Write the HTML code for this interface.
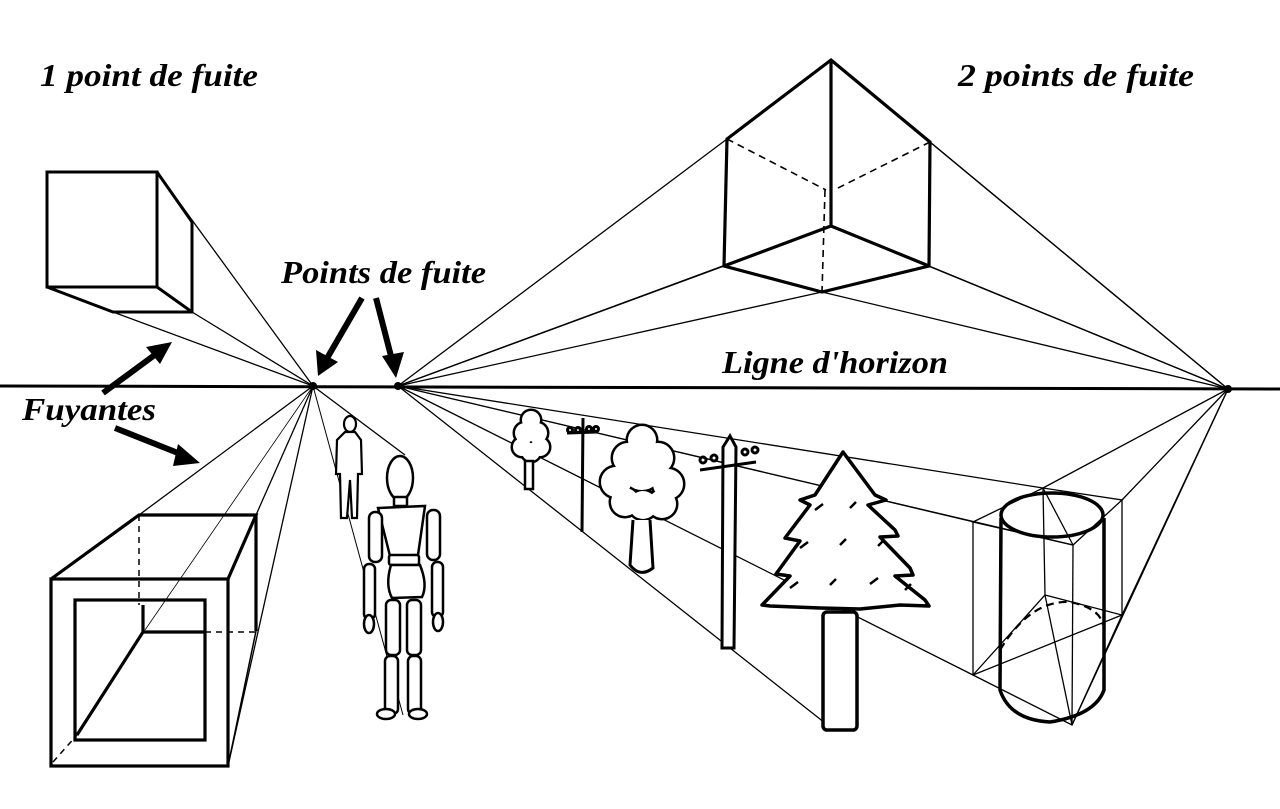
<!DOCTYPE html>
<html><head><meta charset="utf-8"><style>html,body{margin:0;padding:0;background:#fff}svg{display:block}</style></head>
<body>
<svg width="1280" height="809" viewBox="0 0 1280 809" xmlns="http://www.w3.org/2000/svg">
<rect width="1280" height="809" fill="#fff"/>
<defs>
<marker id="ah" viewBox="0 0 10 10" refX="8" refY="5" markerWidth="4" markerHeight="4" orient="auto"><path d="M0,0 L10,5 L0,10 z" fill="#000"/></marker>
</defs>
<g font-family="Liberation Serif, serif" font-weight="bold" font-style="italic" fill="#000">
<text x="40" y="86" font-size="32" textLength="218" lengthAdjust="spacingAndGlyphs">1 point de fuite</text>
<text x="958" y="86" font-size="32" textLength="236" lengthAdjust="spacingAndGlyphs">2 points de fuite</text>
<text x="281" y="283" font-size="32" textLength="205" lengthAdjust="spacingAndGlyphs">Points de fuite</text>
<text x="722" y="373" font-size="32" textLength="226" lengthAdjust="spacingAndGlyphs">Ligne d'horizon</text>
<text x="22" y="420" font-size="32" textLength="134" lengthAdjust="spacingAndGlyphs">Fuyantes</text>
</g>
<!-- horizon -->
<line x1="0" y1="386" x2="1280" y2="389" stroke="#000" stroke-width="3"/>
<circle cx="313" cy="386" r="4"/><circle cx="398" cy="386" r="4"/><circle cx="1228" cy="389" r="4"/>
<g stroke="#000" fill="none" stroke-width="1.3">
<!-- VP1 rays -->
<line x1="313" y1="386" x2="157" y2="172"/>
<line x1="313" y1="386" x2="192" y2="312"/>
<line x1="313" y1="386" x2="113" y2="312"/>
<line x1="313" y1="386" x2="139" y2="515"/>
<line x1="313" y1="386" x2="256" y2="515"/>
<line x1="313" y1="386" x2="228" y2="766"/>
<line x1="313" y1="386" x2="145" y2="630" stroke-width="0.8"/>
<line x1="313" y1="386" x2="405" y2="455"/>
<line x1="313" y1="386" x2="403" y2="715" stroke-width="1"/>
<!-- VP2 rays -->
<line x1="398" y1="386" x2="727" y2="139"/>
<line x1="398" y1="386" x2="724" y2="266"/>
<line x1="398" y1="386" x2="822" y2="292"/>
<line x1="398" y1="386" x2="831" y2="226"/>
<line x1="398" y1="386" x2="1043" y2="488"/>
<line x1="398" y1="386" x2="1073" y2="545"/>
<line x1="398" y1="386" x2="973" y2="675"/>
<line x1="398" y1="386" x2="825" y2="723"/>
<line x1="398" y1="386" x2="973" y2="522" stroke-width="0.8"/>
<!-- VP3 rays -->
<line x1="1228" y1="389" x2="831" y2="60"/>
<line x1="1228" y1="389" x2="930" y2="142"/>
<line x1="1228" y1="389" x2="929" y2="266"/>
<line x1="1228" y1="389" x2="822" y2="292"/>
<line x1="1228" y1="389" x2="831" y2="226"/>
<line x1="1228" y1="389" x2="1043" y2="488"/>
<line x1="1228" y1="389" x2="1122" y2="500"/>
<line x1="1228" y1="389" x2="1122" y2="615"/>
<line x1="1228" y1="389" x2="1072" y2="725"/>
<!-- cylinder box -->
<polygon points="973,522 1043,488 1122,500 1073,545"/>
<polygon points="973,675 1045,595 1122,615 1072,725"/>
<line x1="973" y1="522" x2="973" y2="675"/>
<line x1="1073" y1="545" x2="1072" y2="725"/>
<line x1="1122" y1="500" x2="1122" y2="615"/>
<line x1="1043" y1="488" x2="1045" y2="595"/>
<line x1="1043" y1="488" x2="1073" y2="545" />
<line x1="1045" y1="595" x2="1072" y2="725"/>
<line x1="973" y1="675" x2="1122" y2="615"/>
</g>
<!-- cylinder -->
<g stroke="#000" fill="none" stroke-width="3.5">
<ellipse cx="1052" cy="515" rx="51" ry="22"/>
<path d="M1001,518 L1000,690 Q1010,720 1050,722 Q1095,715 1104,690 L1104,518"/>
<path d="M1000,650 Q1030,600 1070,602 Q1100,608 1103,625" stroke-width="2.2" stroke-dasharray="8,5"/>
</g>
<!-- top-left cube -->
<g stroke="#000" fill="none" stroke-width="3">
<rect x="47" y="172" width="110" height="115"/>
<polyline points="157,172 192,222 192,312 113,312 47,287"/>
<line x1="157" y1="287" x2="192" y2="312"/>
</g>
<!-- bottom-left box -->
<g stroke="#000" fill="none" stroke-width="3.2">
<rect x="51" y="579" width="177" height="187"/>
<rect x="75" y="600" width="130" height="140"/>
<polyline points="51,579 139,515 256,515 228,579"/>
<line x1="256" y1="515" x2="256" y2="631"/>
<line x1="228" y1="766" x2="256" y2="631" stroke-width="1.5"/>
<polyline points="143,605 143,632 205,632"/>
<line x1="143" y1="632" x2="77" y2="735"/>
</g>
<g stroke="#000" fill="none" stroke-width="1.5" stroke-dasharray="6,5">
<line x1="139" y1="515" x2="139" y2="605"/>
<line x1="205" y1="632" x2="258" y2="632"/>
<line x1="53" y1="762" x2="77" y2="735"/>
</g>
<!-- top-right cube -->
<g stroke="#000" fill="none" stroke-width="3.2">
<polygon points="831,60 930,142 929,266 822,292 724,266 727,139"/>
<line x1="831" y1="60" x2="831" y2="226"/>
<polyline points="724,266 831,226 929,266"/>
</g>
<g stroke="#000" fill="none" stroke-width="1.6" stroke-dasharray="7,5">
<line x1="727" y1="139" x2="826" y2="190"/>
<line x1="930" y1="142" x2="834" y2="190"/>
<line x1="825" y1="190" x2="822" y2="292"/>
</g>
<!-- arrows -->
<g stroke="#000" stroke-width="6" fill="#000">
<line x1="103" y1="393" x2="156" y2="354"/><polygon points="172,342 146,347 160,364" stroke="none"/>
<line x1="115" y1="428" x2="183" y2="455"/><polygon points="200,463 178,444 173,466" stroke="none"/>
<line x1="362" y1="298" x2="326" y2="360"/><polygon points="318,376 316,350 338,362" stroke="none"/>
<line x1="376" y1="298" x2="392" y2="360"/><polygon points="396,378 382,356 404,352" stroke="none"/>
</g>
<!-- small tree -->
<g>
<g stroke="#000" stroke-width="5"><circle cx="531" cy="420" r="9"/><circle cx="525" cy="433" r="10"/><circle cx="537" cy="433" r="10"/><circle cx="522" cy="447" r="9"/><circle cx="540" cy="447" r="9"/><circle cx="531" cy="452" r="9"/></g>
<g fill="#fff"><circle cx="531" cy="420" r="9"/><circle cx="525" cy="433" r="10"/><circle cx="537" cy="433" r="10"/><circle cx="522" cy="447" r="9"/><circle cx="540" cy="447" r="9"/><circle cx="531" cy="452" r="9"/></g>
<rect x="525" y="461" width="8" height="28" fill="#fff" stroke="#000" stroke-width="2.5"/>
</g>
<!-- small pole -->
<g stroke="#000" stroke-width="3" fill="none">
<line x1="583" y1="418" x2="582" y2="532"/>
<line x1="567" y1="433" x2="597" y2="432"/>
<circle cx="570" cy="430" r="2.5"/><circle cx="578" cy="430" r="2.5"/><circle cx="589" cy="429" r="2.5"/><circle cx="596" cy="429" r="2.5"/>
</g>
<!-- round tree -->
<g>
<g stroke="#000" stroke-width="5"><circle cx="642" cy="440" r="14"/><circle cx="628" cy="458" r="15"/><circle cx="658" cy="458" r="15"/><circle cx="616" cy="482" r="15"/><circle cx="668" cy="484" r="15"/><circle cx="642" cy="470" r="20"/><circle cx="625" cy="502" r="14"/><circle cx="662" cy="504" r="14"/><circle cx="643" cy="505" r="14"/></g>
<g fill="#fff"><circle cx="642" cy="440" r="14"/><circle cx="628" cy="458" r="15"/><circle cx="658" cy="458" r="15"/><circle cx="616" cy="482" r="15"/><circle cx="668" cy="484" r="15"/><circle cx="642" cy="470" r="20"/><circle cx="625" cy="502" r="14"/><circle cx="662" cy="504" r="14"/><circle cx="643" cy="505" r="14"/></g>
<path d="M633,520 L630,565 Q640,578 653,568 L650,520" fill="#fff" stroke="#000" stroke-width="3"/>
</g>
<!-- big pole -->
<g stroke="#000" stroke-width="3" fill="none">
<path d="M723,447 L730,436 L736,447 L734,648 L722,648 Z" fill="#fff"/>
<line x1="700" y1="470" x2="756" y2="462"/>
<circle cx="703" cy="460" r="3"/><circle cx="714" cy="458" r="3"/><circle cx="745" cy="452" r="3"/><circle cx="755" cy="450" r="3"/>
</g>
<!-- pine -->
<g stroke="#000" stroke-width="3.5" fill="#fff" stroke-linejoin="round">
<rect x="823" y="612" width="34" height="118" rx="4"/>
<polygon points="843,452 875,495 886,500 868,505 895,530 898,536 880,537 910,568 913,575 895,576 925,600 929,606 900,605 860,609 820,608 770,606 762,605 790,576 776,574 800,541 785,538 810,505 800,500 815,495"/>
</g>
<g stroke="#000" stroke-width="2.5" fill="none">
<path d="M815,510 l8,-6 M850,508 l6,-6 M800,548 l8,-6 M840,545 l6,-6 M878,546 l6,-6 M790,588 l8,-6 M830,585 l6,-6 M870,584 l8,-6 M905,590 l6,-6"/>
</g>
<!-- small figure -->
<g stroke="#000" stroke-width="2.2" fill="#fff">
<ellipse cx="350" cy="424" rx="6" ry="8"/>
<path d="M345,432 L355,432 L361,440 L362,474 L358,474 L357,518 L352,518 L350,480 L347,518 L341,518 L340,474 L336,474 L337,440 Z"/>
</g>
<!-- mannequin -->
<g stroke="#000" stroke-width="2.5" fill="#fff">
<ellipse cx="400" cy="478" rx="13" ry="22"/>
<rect x="394" y="497" width="13" height="9"/>
<path d="M378,508 L425,506 L418,555 L390,556 Z"/>
<rect x="389" y="555" width="30" height="10" rx="2"/>
<path d="M391,565 L420,565 Q428,585 422,597 L392,598 Q385,585 391,565 Z"/>
<rect x="386" y="600" width="14" height="55" rx="5"/>
<rect x="407" y="600" width="14" height="55" rx="5"/>
<rect x="385" y="656" width="13" height="58" rx="5"/>
<rect x="408" y="656" width="13" height="58" rx="5"/>
<ellipse cx="386" cy="714" rx="9" ry="5"/><ellipse cx="418" cy="714" rx="9" ry="5"/>
<rect x="369" y="512" width="13" height="50" rx="6"/>
<rect x="427" y="510" width="13" height="50" rx="6"/>
<rect x="364" y="564" width="11" height="55" rx="5"/>
<rect x="432" y="562" width="11" height="55" rx="5"/>
<ellipse cx="369" cy="624" rx="5" ry="9"/><ellipse cx="438" cy="622" rx="5" ry="9"/>
</g>
</svg>
</body></html>
